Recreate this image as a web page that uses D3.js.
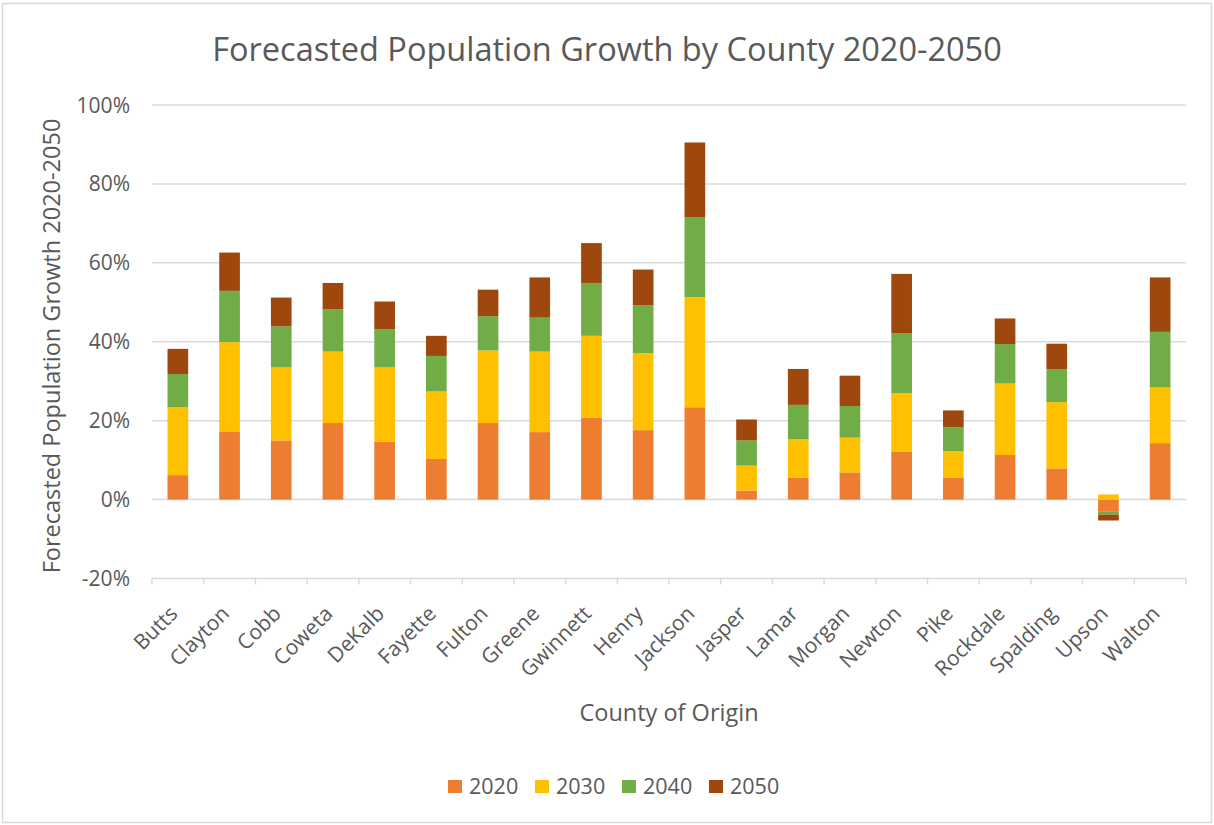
<!DOCTYPE html>
<html>
<head>
<meta charset="utf-8">
<script src="https://cdn.jsdelivr.net/npm/d3@7"></script>
<style>
  body { margin: 0; background: #fff; }
  text { font-family: "Open Sans", sans-serif; fill: #595959; }
</style>
</head>
<body>
<svg width="1214" height="825"></svg>
<script>
// counties along the x axis
var counties = ["Butts", "Clayton", "Cobb", "Coweta", "DeKalb", "Fayette", "Fulton", "Greene",
    "Gwinnett", "Henry", "Jackson", "Jasper", "Lamar", "Morgan", "Newton", "Pike", "Rockdale",
    "Spalding", "Upson", "Walton"];

// growth per decade, in percent
var g2020 = [6.2, 17.3, 15.0, 19.4, 14.7, 10.3, 19.4, 17.1, 20.7, 17.6, 23.4, 2.3, 5.6, 6.9, 12.2, 5.6, 11.3, 7.9, -3.1, 14.3];
var g2030 = [17.2, 22.6, 18.5, 18.1, 18.8, 17.1, 18.4, 20.4, 20.8, 19.5, 27.9, 6.3, 9.7, 8.8, 14.8, 6.7, 18.1, 16.8, 1.3, 14.1];
var g2040 = [8.4, 13.0, 10.4, 10.7, 9.7, 9.0, 8.7, 8.6, 13.4, 12.1, 20.3, 6.4, 8.7, 8.0, 15.2, 6.0, 10.0, 8.4, -0.7, 14.1];
var g2050 = [6.4, 9.7, 7.3, 6.7, 7.0, 5.1, 6.7, 10.2, 10.1, 9.1, 18.9, 5.3, 9.1, 7.7, 15.0, 4.3, 6.5, 6.4, -1.5, 13.8];

var years = ["2020", "2030", "2040", "2050"];
var yTicks = [-20, 0, 20, 40, 60, 80, 100];
var colors = ["#ED7D31", "#FFC000", "#70AD47", "#9E480E"];

var svg = d3.select("svg"),
    width = +svg.attr("width"),
    height = +svg.attr("height");

// chart frame
svg.append("rect")
    .attr("x", 2.5).attr("y", 3.5)
    .attr("width", width - 5).attr("height", height - 6)
    .attr("fill", "#fff")
    .attr("stroke", "#d9d9d9")
    .attr("stroke-width", 1.5);

var rows = counties.map(function(c, i) {
    return { county: c, "2020": g2020[i], "2030": g2030[i], "2040": g2040[i], "2050": g2050[i] };
});

var series = d3.stack()
    .keys(years)
    .offset(d3.stackOffsetDiverging)(rows);

var x = d3.scaleBand()
    .domain(counties)
    .range([152, 1186])
    .paddingInner(0.6)
    .paddingOuter(0.3);

var y = d3.scaleLinear()
    .domain([-20, 100])
    .range([578.5, 105]);

var color = d3.scaleOrdinal().domain(years).range(colors);

// gridlines
svg.append("g").selectAll("line")
    .data(yTicks.filter(function(d) { return d > -20; }))
    .enter().append("line")
    .attr("x1", 152).attr("x2", 1186)
    .attr("y1", function(d) { return y(d); })
    .attr("y2", function(d) { return y(d); })
    .attr("stroke", "#d9d9d9")
    .attr("stroke-width", 1.5);

// y tick labels
svg.append("g").selectAll("text")
    .data(yTicks)
    .enter().append("text")
    .attr("x", 130)
    .attr("y", function(d) { return y(d); })
    .attr("dy", "0.36em")
    .attr("text-anchor", "end")
    .style("font-size", "21px")
    .text(function(d) { return d + "%"; });

// bars
svg.append("g").selectAll("g")
    .data(series)
    .enter().append("g")
    .attr("fill", function(d) { return color(d.key); })
    .selectAll("rect")
    .data(function(d) { return d; })
    .enter().append("rect")
    .attr("x", function(d) { return x(d.data.county); })
    .attr("width", x.bandwidth())
    .attr("y", function(d) { return y(Math.max(d[0], d[1])); })
    .attr("height", function(d) { return Math.abs(y(d[0]) - y(d[1])); });

// category axis at the bottom (-20%)
var xAxis = svg.append("g");
xAxis.append("line")
    .attr("x1", 152).attr("x2", 1186)
    .attr("y1", y(-20)).attr("y2", y(-20))
    .attr("stroke", "#d9d9d9")
    .attr("stroke-width", 1.5);
xAxis.selectAll(".tick")
    .data(d3.range(counties.length + 1))
    .enter().append("line")
    .attr("x1", function(i) { return 152 + i * x.step(); })
    .attr("x2", function(i) { return 152 + i * x.step(); })
    .attr("y1", y(-20)).attr("y2", y(-20) + 6)
    .attr("stroke", "#d9d9d9")
    .attr("stroke-width", 1.5);

xAxis.selectAll(".lbl")
    .data(counties)
    .enter().append("text")
    .attr("transform", function(d) {
        return "translate(" + (x(d) + x.bandwidth() / 2 + 1) + "," + 615 + ") rotate(-45)";
    })
    .attr("text-anchor", "end")
    .style("font-size", "21px")
    .text(function(d) { return d; });

// titles
svg.append("text")
    .attr("x", 607).attr("y", 61)
    .attr("text-anchor", "middle")
    .style("font-size", "32.5px")
    .text("Forecasted Population Growth by County 2020-2050");

svg.append("text")
    .attr("x", 669).attr("y", 721)
    .attr("text-anchor", "middle")
    .style("font-size", "23.5px")
    .text("County of Origin");

svg.append("text")
    .attr("transform", "translate(60,346) rotate(-90)")
    .attr("text-anchor", "middle")
    .style("font-size", "23.5px")
    .text("Forecasted Population Growth 2020-2050");

// legend
var legend = svg.append("g").selectAll("g")
    .data(years)
    .enter().append("g")
    .attr("transform", function(d, i) { return "translate(" + (448 + i * 87) + ",780)"; });
legend.append("rect")
    .attr("width", 14).attr("height", 13)
    .attr("fill", function(d) { return color(d); });
legend.append("text")
    .attr("x", 21).attr("y", 6.5)
    .attr("dy", "0.36em")
    .style("font-size", "21.5px")
    .text(function(d) { return d; });
</script>
</body>
</html>
